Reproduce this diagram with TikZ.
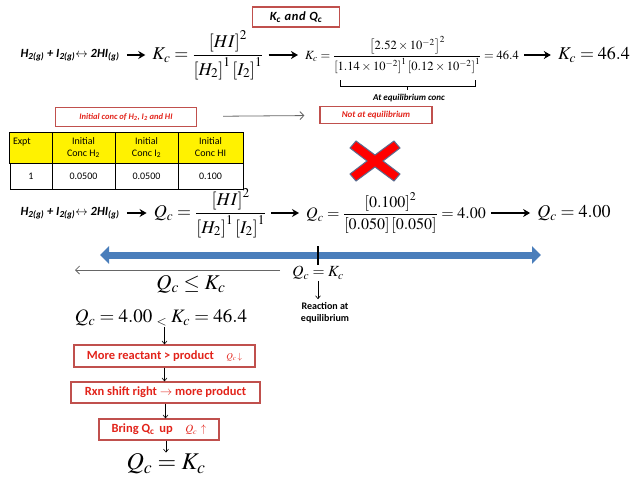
\documentclass[tikz,border=0pt]{standalone}
\usepackage{amsmath,amssymb}
\usepackage{mathptmx}
\usepackage[no-math]{fontspec}
\setmainfont{Carlito}
\usetikzlibrary{arrows.meta,positioning}
\definecolor{boxred}{HTML}{C0504D}
\definecolor{txtred}{HTML}{E2231A}
\definecolor{barblue}{HTML}{4A7EBB}
\definecolor{xline}{HTML}{5B6C8F}

\begin{document}
\begin{tikzpicture}[
  x=1pt, y=-1pt,
  redbox/.style={draw=boxred,line width=1.2pt,text=txtred,inner sep=2pt,
    font=\bfseries\itshape\fontsize{9}{11}\selectfont},
  flowbox/.style={draw=boxred,line width=1.2pt,text=txtred,inner sep=2pt,
    font=\bfseries\fontsize{12.5}{14}\selectfont},
  rxn/.style={font=\bfseries\itshape\fontsize{12.5}{15}\selectfont},
  eqn/.style={inner sep=1pt,font=\fontsize{18}{21}\selectfont},
  hcell/.style={draw,line width=0.8pt,fill=yellow,align=center,minimum height=31pt,
    font=\fontsize{10}{12}\selectfont},
  dcell/.style={draw,line width=0.8pt,minimum height=26pt,font=\fontsize{10}{12}\selectfont},
  bigarr/.style={-{Stealth[length=7pt,width=8pt]},line width=1.5pt,
    shorten <=4pt,shorten >=6pt},
  thinarr/.style={-{Straight Barb[length=4pt]},black!60,line width=0.8pt},
  downarr/.style={-{Straight Barb[length=3pt,width=5pt]},line width=0.6pt}
]
\useasboundingbox (0,0) rectangle (638,479);

% title
\node[redbox,text=black,minimum width=87pt,minimum height=20pt,
  font=\bfseries\itshape\fontsize{12.5}{14}\selectfont\addfontfeatures{LetterSpace=6}] (title) at (296,17)
  {K\textsubscript{c} and Q\textsubscript{c}};

% K_c row
\node[rxn] (rxnK) at (70,55)
  {H\textsubscript{2(g)} + I\textsubscript{2(g)}$\leftrightarrow$ 2HI\textsubscript{(g)}};
\node[eqn] (Kdef) at (208,55)
  {$K_c=\dfrac{\left[HI\right]^2}{\left[H_2\right]^1\left[I_2\right]^1}$};
\node[inner sep=1pt,font=\fontsize{12.5}{15}\selectfont] (Kval) at (412,55)
  {$K_c=\dfrac{\left[2.52\times10^{-2}\right]^2}{\left[1.14\times10^{-2}\right]^1\left[0.12\times10^{-2}\right]^1}=46.4$};
\node[eqn] (Kres) at (594,55) {$K_c=46.4$};
\draw[bigarr] (rxnK) -- (Kdef);
\draw[bigarr] (Kdef) -- (Kval);
\draw[bigarr] (Kval) -- (Kres);

% bracket under denominator
\draw[line width=0.8pt] (340,80) -- (340,86) -- (475,86) -- (475,80);
\draw[line width=0.8pt] (407,86) -- (407,90);
\node[font=\bfseries\itshape\fontsize{9}{10}\selectfont] (eqconc) at (409,98)
  {At equilibrium conc};

% initial conc
\node[redbox,minimum width=141pt,minimum height=19pt,
  font=\bfseries\itshape\fontsize{8.5}{10}\selectfont] (initbox) at (126,117)
  {Initial conc of H\textsubscript{2}, I\textsubscript{2} and HI};
\node[redbox,minimum width=112pt,minimum height=17pt] (notbox) at (376,115)
  {Not at equilibrium};
\draw[thinarr,shorten <=26pt,shorten >=15pt] (initbox) -- (notbox);

% table
\node[hcell,minimum width=42pt,text width=36pt,align=left] (hexpt) at (31,147.5) {Expt\\\mbox{}};
\node[hcell,minimum width=63pt] (hh2) at (83.5,147.5) {Initial\\Conc H\textsubscript{2}};
\node[hcell,minimum width=63pt] (hi2) at (146.5,147.5) {Initial\\Conc I\textsubscript{2}};
\node[hcell,minimum width=65pt] (hhi) at (210.5,147.5) {Initial\\Conc HI};
\node[dcell,minimum width=42pt] (dexpt) at (31,176) {1};
\node[dcell,minimum width=63pt] (dh2) at (83.5,176) {0.0500};
\node[dcell,minimum width=63pt] (di2) at (146.5,176) {0.0500};
\node[dcell,minimum width=65pt] (dhi) at (210.5,176) {0.100};

% red cross
\filldraw[fill=red,draw=xline,line width=1pt,shift={(375,161)}]
  (-19,-20) -- (0,-6) -- (19,-20) -- (25,-13) -- (8,0) -- (25,13) -- (19,20)
  -- (0,6) -- (-19,20) -- (-25,13) -- (-8,0) -- (-25,-13) -- cycle;

% Q_c row
\node[rxn] (rxnQ) at (70,213)
  {H\textsubscript{2(g)} + I\textsubscript{2(g)}$\leftrightarrow$ 2HI\textsubscript{(g)}};
\node[eqn] (Qdef) at (210,213)
  {$Q_c=\dfrac{\left[HI\right]^2}{\left[H_2\right]^1\left[I_2\right]^1}$};
\node[inner sep=1pt,font=\fontsize{16}{19}\selectfont] (Qval) at (396,213)
  {$Q_c=\dfrac{\left[0.100\right]^2}{\left[0.050\right]\left[0.050\right]}=4.00$};
\node[eqn] (Qres) at (574,213) {$Q_c=4.00$};
\draw[bigarr] (rxnQ) -- (Qdef);
\draw[bigarr] (Qdef) -- (Qval);
\draw[bigarr] (Qval) -- (Qres);

% scale bar
\coordinate (barL) at (100,255);
\coordinate (barR) at (541,255);
\draw[barblue,line width=7pt,{Triangle[width=17pt,length=9pt]}-{Triangle[width=17pt,length=9pt]}]
  (barL) -- (barR);
\draw[line width=2.5pt] (318,246) -- (318,265);

\coordinate (leftend) at (75,270);
\coordinate (leftstart) at (280,270);
\draw[thinarr] (leftstart) -- (leftend);
\node[inner sep=1pt,font=\fontsize{21}{24}\selectfont] (Qle) at (191,284) {$Q_c\le K_c$};
\node[inner sep=1pt,font=\fontsize{15.5}{18}\selectfont] (Qeq) at (318,273) {$Q_c=K_c$};
\node[align=center,font=\bfseries\fontsize{10}{12}\selectfont] (eqtxt) at (325,313)
  {Reaction at\\equilibrium};
\draw[downarr] (Qeq) -- (Qeq |- eqtxt.north);

% comparison and steps
\node[inner sep=1pt,font=\fontsize{19}{22}\selectfont] (cmp) at (161,318)
  {$Q_c=4.00$ \raisebox{-3pt}{\fontsize{13}{13}\selectfont$<$} $K_c=46.4$};
\node[flowbox,minimum width=181pt,minimum height=22pt] (box1) at (164.5,356)
  {More reactant > product\quad{\normalfont\fontsize{9}{9}\selectfont$Q_c\!\downarrow$}};
\node[flowbox,minimum width=189pt,minimum height=21pt] (box2) at (165.5,392.5)
  {Rxn shift right $\rightarrow$ more product};
\node[flowbox,minimum width=120pt,minimum height=21pt] (box3) at (159,429.5)
  {Bring Q\textsubscript{c}\, up\quad{\normalfont\fontsize{11}{11}\selectfont$Q_c\,\uparrow$}};
\node[inner sep=1pt,font=\fontsize{24}{28}\selectfont] (final) at (166,464) {$Q_c=K_c$};

\draw[downarr] (cmp.south -| box1) -- (box1);
\draw[downarr] (box1) -- (box1 |- box2.north);
\draw[downarr] (box2) -- (box2 |- box3.north);
\draw[downarr] (box3.south -| final) -- (final);
\end{tikzpicture}
\end{document}
